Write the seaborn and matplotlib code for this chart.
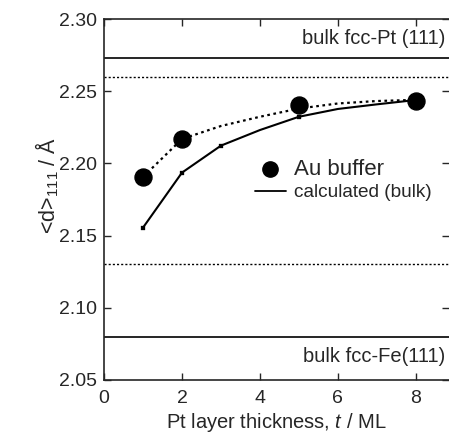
import matplotlib
matplotlib.use("Agg")
import matplotlib.pyplot as plt
from matplotlib.lines import Line2D
import seaborn as sns
import pandas as pd

# ---- data ----
au_t = [1, 2, 5, 8]
au_d = [2.1906, 2.2169, 2.2407, 2.2434]

au_fit_t = [1, 2, 3, 4, 5, 6, 7, 8]
au_fit_d = [2.1906, 2.2169, 2.2259, 2.2323, 2.2380, 2.2415, 2.2432, 2.2440]

calc_t = [1, 2, 3, 4, 5, 6, 7, 8]
calc_d = [2.1555, 2.1936, 2.2123, 2.2231, 2.2323, 2.2377, 2.2409, 2.2439]
calc_mark_t = [1, 2, 3, 5, 8]
calc_mark_d = [2.1555, 2.1936, 2.2123, 2.2323, 2.2439]

pt_bulk = 2.273
fe_bulk = 2.080
dotted_levels = [2.260, 2.130]

xticks = [0, 2, 4, 6, 8]
yticks = [2.05, 2.10, 2.15, 2.20, 2.25, 2.30]

sns.set_theme(style="ticks")
plt.rcParams['font.family'] = ['Liberation Sans', 'DejaVu Sans']
plt.rcParams['mathtext.fontset'] = 'custom'
plt.rcParams['mathtext.it'] = 'Liberation Sans:italic'
plt.rcParams['mathtext.rm'] = 'Liberation Sans'

fig = plt.figure(figsize=(4.49, 4.37), dpi=100)
ax = fig.add_axes([104/449, 1-380/437, 1-104/449, 361/437])

df_calc = pd.DataFrame({"t": calc_t, "d": calc_d})
df_fit = pd.DataFrame({"t": au_fit_t, "d": au_fit_d})
df_au = pd.DataFrame({"t": au_t, "d": au_d})
df_cm = pd.DataFrame({"t": calc_mark_t, "d": calc_mark_d})

sns.lineplot(data=df_calc, x="t", y="d", ax=ax, color="black", lw=1.5, sort=True)
sns.lineplot(data=df_fit, x="t", y="d", ax=ax, color="black", lw=1.6,
             linestyle=(0, (1.2, 1.6)))
sns.scatterplot(data=df_cm, x="t", y="d", ax=ax, color="black", marker="s", s=7,
                edgecolor="black", zorder=4)
sns.scatterplot(data=df_au, x="t", y="d", ax=ax, color="black", s=150,
                edgecolor="black", zorder=5)

for yv in [pt_bulk, fe_bulk]:
    ax.axhline(yv, color="black", lw=1.2)
for yv in dotted_levels:
    ax.axhline(yv, color="black", lw=1.0, linestyle=(0, (1.5, 1.5)))

ax.text(8.75, 2.2862, "bulk fcc-Pt (111)", ha="right", va="center", fontsize=14.5)
ax.text(8.75, 2.0665, "bulk fcc-Fe(111)", ha="right", va="center", fontsize=14.5)

ax.set_xlim(0, 8.85)
ax.set_ylim(2.05, 2.30)
ax.set_xticks(xticks)
ax.set_yticks(yticks)
ax.set_yticklabels([f"{v:.2f}" for v in yticks])
ax.tick_params(direction="in", top=True, right=True, length=5, width=1,
               labelsize=14, pad=5)
ax.tick_params(axis="x", pad=7)
ax.spines["right"].set_visible(False)
for s in ["left", "bottom", "top"]:
    ax.spines[s].set_linewidth(1.2)

ax.set_xlabel("Pt layer thickness, $t$ / ML", fontsize=14.5, labelpad=3)
ax.set_ylabel("<d>$_{111}$ / Å", fontsize=15.5)
ax.yaxis.set_label_coords(-0.125, 0.54)

handles = [Line2D([], [], color="black", marker="o", linestyle="none", markersize=11),
           Line2D([], [], color="black", lw=1.3)]
leg = ax.legend(handles, ["Au buffer", "calculated (bulk)"], loc="upper left",
                bbox_to_anchor=(0.42, 0.63), frameon=False, handlelength=2.0,
                handletextpad=0.55, labelspacing=0.25, borderaxespad=0)
texts = leg.get_texts()
texts[0].set_fontsize(16)
texts[1].set_fontsize(13.7)

fig.savefig("out.png", dpi=100)
